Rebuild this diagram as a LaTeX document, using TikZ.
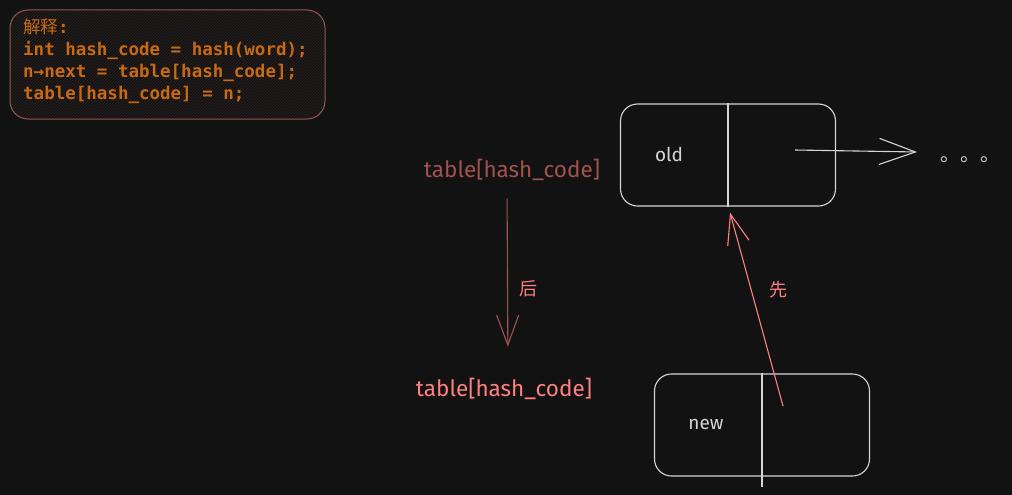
\documentclass[tikz,border=0pt]{standalone}
\usepackage{fontspec}
\setmainfont{Fira Sans}
\newfontfamily\cjk{Noto Sans CJK SC}
\newfontfamily\codefont{DejaVu Sans Mono}
\usetikzlibrary{arrows.meta,patterns,calc}
\definecolor{canvas}{RGB}{18,18,18}
\definecolor{chalk}{RGB}{214,214,214}
\definecolor{rust}{RGB}{160,82,78}
\definecolor{salmon}{RGB}{255,128,128}
\definecolor{codeorange}{RGB}{200,106,20}
\definecolor{noteedge}{RGB}{150,86,86}

\begin{document}
\begin{tikzpicture}[
    x=1pt,y=-1pt,
    cell/.style={draw=chalk,line width=1.1pt,rounded corners=17pt,minimum width=215pt,minimum height=102pt},
    lbl/.style={font=\fontsize{22.5}{26}\selectfont},
    hz/.style={font=\cjk\fontsize{18}{22}\selectfont,text=salmon},
    barb/.style={-{Straight Barb[length=30pt,width=22pt,line width=1.1pt]}}
]
\fill[canvas] (0,0) rectangle (1012,495);

% explanation box
\draw[noteedge,line width=1pt,rounded corners=18pt,fill={rgb,255:red,26;green,21;blue,21},
      pattern=north east lines,pattern color={rgb,255:red,48;green,36;blue,36}]
  (10,10) rectangle (325,119);
\node[anchor=north west,align=left,text=codeorange,inner sep=0pt,
      font=\codefont\bfseries\fontsize{17.5}{22}\selectfont] (note) at (23,19)
  {{\cjk\mdseries 解释}:\\int hash\_code = hash(word);\\n→next = table[hash\_code];\\table[hash\_code] = n;};

% list cells
\node[cell] (old) at (728,155) {};
\node[cell] (new) at (762,425) {};
\draw[chalk,line width=1.1pt] (old.north) -- (old.south);
\draw[chalk,line width=1.1pt] (new.north) -- ($(new.south)+(0,10)$);
\node[text=chalk,font=\fontsize{19}{22}\selectfont] (oldtxt) at (669,154) {old};
\node[text=chalk,font=\fontsize{19}{22}\selectfont] (newtxt) at (706,424) {new};

% next pointer of old
\coordinate (oldptr) at (795,150);
\coordinate (oldnext) at (917,152);
\node[font=\cjk\fontsize{20}{24}\selectfont,text=chalk] (dots) at (970,160) {。。。};
\draw[chalk,line width=1.1pt,-{Straight Barb[length=36pt,width=26pt,line width=1.1pt]}] (oldptr) -- (oldnext);

% table slot
\node[lbl,text=rust] (slotold) at (512,170) {table[hash\_code]};
\node[lbl,text=salmon] (slotnew) at (504,389) {table[hash\_code]};
\draw[rust,line width=1.1pt,barb,shorten <=14pt,shorten >=28pt] ([xshift=-5pt]slotold.south) -- ([xshift=4pt]slotnew.north)
  node[pos=0.55,right=8pt,hz] {后};

% new -> old
\coordinate (newptr) at (783,406);
\draw[salmon,line width=1.1pt,barb] (newptr) -- ($(old.south)+(2,6)$)
  node[pos=0.6,right=14pt,hz] {先};
\end{tikzpicture}
\end{document}
